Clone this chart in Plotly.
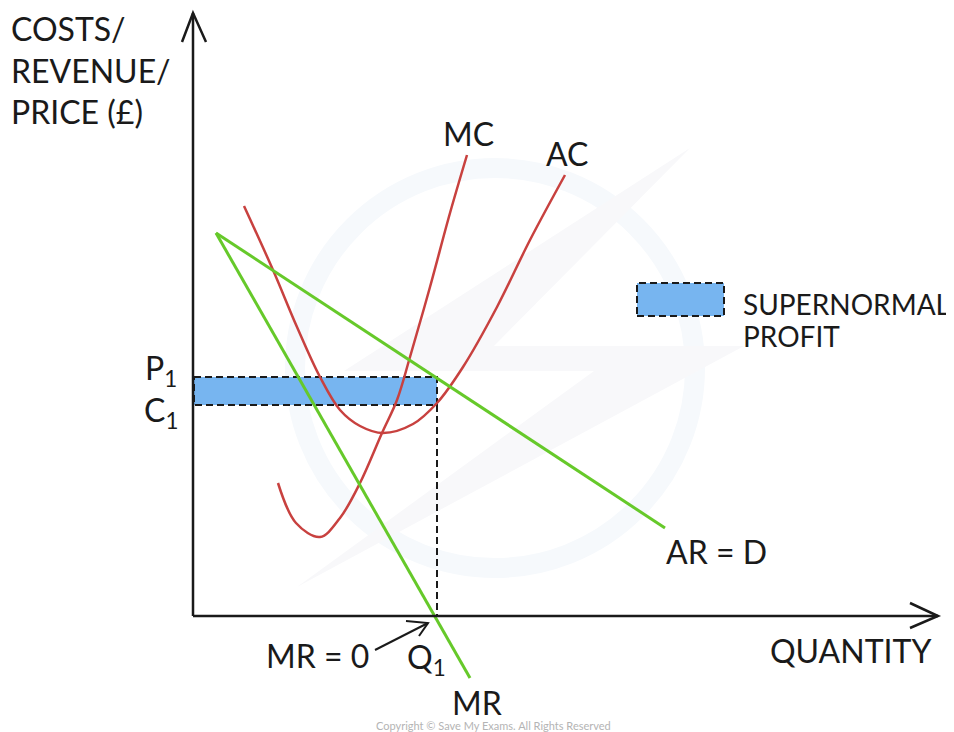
import plotly.graph_objects as go

# data units: quantity / price on an arbitrary scale
ar_q = [2.2, 47.1]
ar_p = [38.3, 8.8]

mr_q = [2.2, 27.6]
mr_p = [38.3, -6.2]

mc_q = [8.4, 10.2, 12.6, 14.6, 16.6, 18.8, 20.3, 21.6, 23.6, 25.6, 27.3]
mc_p = [13.3, 9.3, 7.9, 9.8, 13.3, 18.3, 21.6, 25.9, 32.9, 40.3, 46.1]

ac_q = [5.0, 7.9, 10.3, 12.6, 14.6, 16.6, 18.9, 21.9, 24.3, 26.9, 30.3, 33.6, 37.1]
ac_p = [41.0, 34.6, 28.9, 23.9, 20.6, 19.0, 18.3, 19.2, 21.3, 24.9, 30.9, 37.6, 44.1]

q1 = 24.3
p1 = 23.9
c1 = 21.1

TEXT = "#1a1a1a"
RED = "#c8413f"
GREEN = "#66c92a"
BLUE = "#77b5f0"
FONT = "Lato"

fig = go.Figure()

# faint watermark ring + bolt
fig.add_shape(type="circle", x0=10.1, y0=4.8, x1=50.1, y1=44.8,
              line=dict(color="#f6f9fc", width=20), layer="below")
fig.add_shape(type="path",
              path="M 49.6 46.8 L 15 24.5 L 40 24.5 L 10.3 2.9 L 55 27 L 30 27 Z",
              fillcolor="#f8f8fa", line=dict(width=0), layer="below")

# supernormal profit rectangle
fig.add_trace(go.Scatter(
    x=[0, q1, q1, 0, 0], y=[p1, p1, c1, c1, p1],
    mode="lines", fill="toself", fillcolor=BLUE,
    line=dict(color=TEXT, width=2, dash="7px,4px"),
    showlegend=False, hoverinfo="skip"))

# dashed line down to Q1
fig.add_trace(go.Scatter(
    x=[q1, q1], y=[c1, 0], mode="lines",
    line=dict(color=TEXT, width=2, dash="7px,4px"),
    showlegend=False, hoverinfo="skip"))

# cost curves
fig.add_trace(go.Scatter(x=ac_q, y=ac_p, mode="lines", line_shape="spline",
                         line=dict(color=RED, width=2.5), showlegend=False))
fig.add_trace(go.Scatter(x=mc_q, y=mc_p, mode="lines", line_shape="spline",
                         line=dict(color=RED, width=2.5), showlegend=False))

# revenue lines
fig.add_trace(go.Scatter(x=ar_q, y=ar_p, mode="lines",
                         line=dict(color=GREEN, width=3), showlegend=False))
fig.add_trace(go.Scatter(x=mr_q, y=mr_p, mode="lines",
                         line=dict(color=GREEN, width=3), showlegend=False))

# axes with open arrowheads
axis_line = dict(color=TEXT, width=2.5)
fig.add_shape(type="path", path="M -0.1 0 L -0.1 60.3", line=axis_line)
fig.add_shape(type="path", path="M -1.2 57.4 L -0.1 60.3 L 1.2 57.4", line=axis_line)
fig.add_shape(type="path", path="M -0.1 0 L 74.4 0", line=axis_line)
fig.add_shape(type="path", path="M 71.6 1.3 L 74.4 0 L 71.6 -1.2", line=axis_line)

# MR = 0 pointer
fig.add_shape(type="path", path="M 18.1 -3.4 L 23.4 -0.7", line=dict(color=TEXT, width=2))
fig.add_shape(type="path", path="M 21.2 -0.5 L 23.4 -0.7 L 22.5 -2.0", line=dict(color=TEXT, width=2))

# legend key
fig.add_shape(type="rect", x0=44.3, y0=30.0, x1=53.0, y1=33.3,
              fillcolor=BLUE, line=dict(color=TEXT, width=2, dash="7px,4px"))

labels = [
    ("MC", 27.4, 48.3, "center", 32),
    ("AC", 37.3, 46.3, "center", 32),
    ("AR = D", 52.2, 6.5, "center", 32),
    ("MR", 28.3, -8.6, "center", 32),
    ("QUANTITY", 65.6, -3.4, "center", 32),
    ("MR = 0", 12.3, -3.9, "center", 32),
    ("Q<sub>1</sub>", 23.2, -4.3, "center", 32),
    ("P<sub>1</sub>", -3.3, 24.6, "center", 32),
    ("C<sub>1</sub>", -3.3, 20.4, "center", 32),
    ("SUPERNORMAL", 54.7, 31.2, "left", 28),
    ("PROFIT", 54.7, 28.0, "left", 28),
]
for text, x, y, anchor, size in labels:
    fig.add_annotation(x=x, y=y, text=text, showarrow=False, xanchor=anchor,
                       font=dict(family=FONT, size=size, color=TEXT))

fig.add_annotation(x=-18.5, y=54.6, text="COSTS/<br>REVENUE/<br>PRICE (£)",
                   showarrow=False, xanchor="left", yanchor="middle", align="left",
                   font=dict(family=FONT, size=32, color=TEXT))

fig.add_annotation(x=29.9, y=-10.9, text="Copyright © Save My Exams. All Rights Reserved",
                   showarrow=False, font=dict(family=FONT, size=11, color="#b4b4b4"))

# page body keeps an 8px margin, so the figure covers screen pixels 8..954 / 8..732
fig.update_layout(
    width=946, height=724, autosize=False,
    margin=dict(l=0, r=0, t=0, b=0),
    plot_bgcolor="white", paper_bgcolor="white",
    xaxis=dict(range=[-18.6, 76.0], visible=False, fixedrange=True),
    yaxis=dict(range=[-11.6, 60.8], visible=False, fixedrange=True),
)

fig.write_html("out.html")
